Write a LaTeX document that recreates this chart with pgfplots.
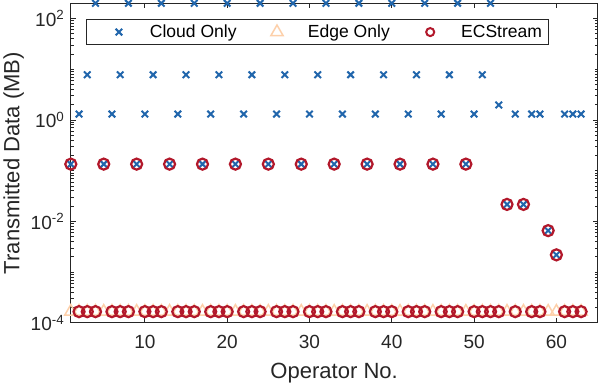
\documentclass[border=0pt]{standalone}
\usepackage{pgfplots}
\pgfplotsset{compat=1.18}
\usepackage{fontspec}
\setmainfont{Liberation Sans}
\definecolor{cloud}{RGB}{33,102,172}
\definecolor{ecs}{RGB}{178,24,43}
\definecolor{edge}{RGB}{253,208,170}
\definecolor{axgray}{RGB}{38,38,38}
\pgfplotsset{
  mylegimg/.style={legend image code/.code={\path[draw=none,fill=none] (0bp,-6bp) (56bp,6bp);\draw[mark repeat=2,mark phase=2,##1,/tikz/only marks] plot coordinates {(0bp,0bp) (31bp,0bp) (56bp,0bp)};}},
  mylegimgsmall/.style={legend image code/.code={\path[draw=none,fill=none] (0bp,-6bp) (56bp,6bp);\draw[mark repeat=2,mark phase=2,##1,/tikz/only marks,mark size=4bp,line width=2bp] plot coordinates {(0bp,0bp) (31bp,0bp) (56bp,0bp)};}}
}
\begin{document}
\begin{tikzpicture}
\begin{axis}[
  scale only axis, width=524bp, height=318bp,
  xmin=1, xmax=65, ymin=1e-4, ymax=200,
  ymode=log,
  clip=false,
  axis line style={draw=axgray, line width=0.9bp},
  every tick/.style={draw=axgray, line width=0.9bp},
  tick align=inside,
  major tick length=5bp, minor tick length=3bp,
  xtick={10,20,30,40,50,60},
  ytick={1e-4,1e-2,1,100},
  yticklabels={10\textsuperscript{-4},10\textsuperscript{-2},10\textsuperscript{0},10\textsuperscript{2}},
  minor ytick={2e-4,3e-4,4e-4,5e-4,6e-4,7e-4,8e-4,9e-4,1e-3,2e-3,3e-3,4e-3,5e-3,6e-3,7e-3,8e-3,9e-3,2e-2,3e-2,4e-2,5e-2,6e-2,7e-2,8e-2,9e-2,1e-1,2e-1,3e-1,4e-1,5e-1,6e-1,7e-1,8e-1,9e-1,2,3,4,5,6,7,8,9,10,20,30,40,50,60,70,80,90},
  /pgf/number format/assume math mode=true,
  ticklabel style={font=\fontsize{19}{22}\selectfont, text=axgray},
  xticklabel style={yshift=-9bp},
  yticklabel style={xshift=-3bp},
  xlabel={Operator No.}, ylabel={Transmitted Data (MB)},
  label style={font=\fontsize{22}{25}\selectfont, text=axgray},
  xlabel style={yshift=-7bp},
  legend columns=3,
  legend style={at={(0.4689,0.9099)}, anchor=center, draw=axgray, line width=0.9bp,
    font=\fontsize{17.5}{20}\selectfont, text=black, inner xsep=1bp, inner ysep=2.3bp,
    nodes={inner xsep=5.8bp, inner ysep=3bp},
    /tikz/every even column/.append style={column sep=3.4bp}},
]
\addplot[/tikz/only marks, mark=x, mark size=4.6bp, draw=cloud, line width=2bp, mylegimg]
table {
x y
1 0.135
2 1.31
3 7.8
4 200
5 0.135
6 1.31
7 7.8
8 200
9 0.135
10 1.31
11 7.8
12 200
13 0.135
14 1.31
15 7.8
16 200
17 0.135
18 1.31
19 7.8
20 200
21 0.135
22 1.31
23 7.8
24 200
25 0.135
26 1.31
27 7.8
28 200
29 0.135
30 1.31
31 7.8
32 200
33 0.135
34 1.31
35 7.8
36 200
37 0.135
38 1.31
39 7.8
40 200
41 0.135
42 1.31
43 7.8
44 200
45 0.135
46 1.31
47 7.8
48 200
49 0.135
50 1.31
51 7.8
52 200
53 1.98
54 0.0217
55 1.31
56 0.0217
57 1.31
58 1.31
59 0.0066
60 0.0022
61 1.31
62 1.31
63 1.31
};
\addlegendentry{Cloud Only}
\addplot[/tikz/only marks, mark=triangle, mark size=7bp, draw=edge, line width=1.5bp, mylegimg]
table {
x y
1 1.67e-4
2 1.67e-4
3 1.67e-4
4 1.67e-4
5 1.67e-4
6 1.67e-4
7 1.67e-4
8 1.67e-4
9 1.67e-4
10 1.67e-4
11 1.67e-4
12 1.67e-4
13 1.67e-4
14 1.67e-4
15 1.67e-4
16 1.67e-4
17 1.67e-4
18 1.67e-4
19 1.67e-4
20 1.67e-4
21 1.67e-4
22 1.67e-4
23 1.67e-4
24 1.67e-4
25 1.67e-4
26 1.67e-4
27 1.67e-4
28 1.67e-4
29 1.67e-4
30 1.67e-4
31 1.67e-4
32 1.67e-4
33 1.67e-4
34 1.67e-4
35 1.67e-4
36 1.67e-4
37 1.67e-4
38 1.67e-4
39 1.67e-4
40 1.67e-4
41 1.67e-4
42 1.67e-4
43 1.67e-4
44 1.67e-4
45 1.67e-4
46 1.67e-4
47 1.67e-4
48 1.67e-4
49 1.67e-4
50 1.67e-4
51 1.67e-4
52 1.67e-4
53 1.67e-4
54 1.67e-4
55 1.67e-4
56 1.67e-4
57 1.67e-4
58 1.67e-4
59 1.67e-4
60 1.67e-4
61 1.67e-4
62 1.67e-4
63 1.67e-4
};
\addlegendentry{Edge Only}
\addplot[/tikz/only marks, mark=o, mark size=5.5bp, draw=ecs, line width=2.2bp, mylegimgsmall]
table {
x y
1 0.135
2 1.67e-4
3 1.67e-4
4 1.67e-4
5 0.135
6 1.67e-4
7 1.67e-4
8 1.67e-4
9 0.135
10 1.67e-4
11 1.67e-4
12 1.67e-4
13 0.135
14 1.67e-4
15 1.67e-4
16 1.67e-4
17 0.135
18 1.67e-4
19 1.67e-4
20 1.67e-4
21 0.135
22 1.67e-4
23 1.67e-4
24 1.67e-4
25 0.135
26 1.67e-4
27 1.67e-4
28 1.67e-4
29 0.135
30 1.67e-4
31 1.67e-4
32 1.67e-4
33 0.135
34 1.67e-4
35 1.67e-4
36 1.67e-4
37 0.135
38 1.67e-4
39 1.67e-4
40 1.67e-4
41 0.135
42 1.67e-4
43 1.67e-4
44 1.67e-4
45 0.135
46 1.67e-4
47 1.67e-4
48 1.67e-4
49 0.135
50 1.67e-4
51 1.67e-4
52 1.67e-4
53 1.67e-4
54 0.0217
55 1.67e-4
56 0.0217
57 1.67e-4
58 1.67e-4
59 0.0066
60 0.0022
61 1.67e-4
62 1.67e-4
63 1.67e-4
};
\addlegendentry{ECStream}
\end{axis}
\end{tikzpicture}
\end{document}
